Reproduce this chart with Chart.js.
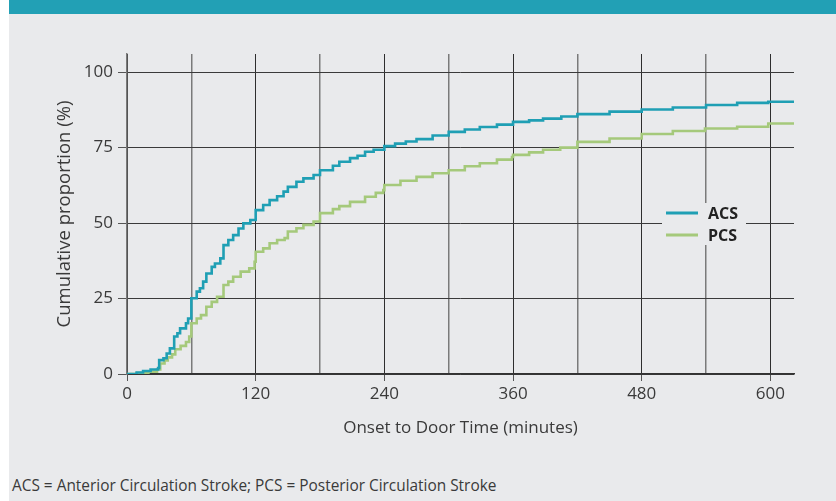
<!DOCTYPE html>
<html>
<head>
<meta charset="utf-8">
<script src="https://cdn.jsdelivr.net/npm/chart.js@4.4.0/dist/chart.umd.min.js"></script>
<style>
  html, body { margin: 0; padding: 0; background: #fff; }
  #panel { position: absolute; left: 9px; top: 0; width: 827px; height: 501px; background: #e9eaec; }
  #band { position: absolute; left: 9px; top: 0; width: 827px; height: 14px; background: #22a0b5; }
  #wrap { position: absolute; left: 0; top: 0; width: 836px; height: 460px; }
  #note { position: absolute; left: 12px; top: 475px; font: 15.4px "Open Sans", sans-serif; color: #3a3a3a; white-space: nowrap; }
</style>
</head>
<body>
<div id="panel"></div>
<div id="band"></div>
<div id="wrap"><canvas id="curveChart"></canvas></div>
<div id="note">ACS = Anterior Circulation Stroke; PCS = Posterior Circulation Stroke</div>
<script>
// values (minutes, cumulative %)
const acsTime = [0, 9, 15, 22, 29, 30, 34, 37, 40, 44, 47, 49.5, 55, 57, 60, 65, 68, 71, 74, 79, 82, 87, 90, 94.5, 99, 104, 108.5, 115, 120, 127, 133, 140, 146, 150, 158, 164.5, 174, 180, 192, 198, 208, 215, 222, 230, 240, 250, 260, 270, 285, 300, 315, 329, 345, 360, 375, 388, 405, 420, 450, 480, 509, 540, 569, 598, 622];
const acsValue = [0, 0.5, 1, 1.5, 2, 4.6, 5.2, 6.8, 8.5, 12.4, 13.5, 15.1, 16.8, 18.4, 25.1, 27.3, 28.4, 30.6, 33.3, 35.5, 36.6, 38.3, 42.7, 44.4, 46, 48.2, 49.9, 51, 54.3, 56, 57.6, 58.9, 60.4, 62, 63.7, 64.8, 65.9, 67.5, 69, 70.3, 71.5, 72.3, 73.6, 74.3, 75.5, 76.3, 77, 77.8, 79, 80.2, 81, 81.8, 82.6, 83.5, 84, 84.6, 85.3, 86.1, 86.9, 87.6, 88.3, 89.1, 89.8, 90.2, 90.3];

const pcsTime = [0, 9, 20, 28, 31, 35, 38, 42, 45, 50, 55, 58, 60, 65, 69, 74, 79, 84, 90, 94.5, 99, 106, 114, 119, 120, 127, 133, 140, 147, 150, 158, 164.5, 174, 180, 192, 198, 208, 222, 232, 239, 240, 255, 270, 285, 300, 315, 329, 345, 359, 360, 375, 388, 404, 420, 450, 480, 509, 539, 569, 598, 622];
const pcsValue = [0, 0.3, 0.8, 1.5, 3.5, 4.5, 5.5, 6.5, 8.2, 9.3, 10.6, 12.4, 16.8, 18.4, 19.5, 22.3, 23.9, 25.6, 29.5, 30.6, 32.2, 33.9, 35, 37.2, 40.5, 41.6, 43.3, 44.4, 45, 47.2, 48.3, 49.4, 50.5, 53.3, 54.6, 55.6, 57, 58.7, 60, 60.9, 62.6, 64, 65.3, 66.5, 67.5, 68.8, 69.8, 71, 71.9, 72.6, 73.4, 74.3, 75, 76.9, 78, 79.5, 80.5, 81.3, 81.9, 83, 83];

const xTicks = [0, 60, 120, 180, 240, 300, 360, 420, 480, 540, 600];
const yTicks = [0, 25, 50, 75, 100];

const seriesNames = ['ACS', 'PCS'];
const seriesColors = ['#1f9fb4', '#a5c97b'];

function toPoints(xs, ys) {
    return xs.map((x, i) => ({ x: x, y: ys[i] }));
}

const textColor = '#3a3a3a';
const fontFamily = '"Open Sans", sans-serif';

// legend drawn inside the plot, with a background box that breaks the grid
const boxLegend = {
    id: 'boxLegend',
    afterDatasetsDraw(chart) {
        const ctx = chart.ctx;
        const area = chart.chartArea;
        const x0 = area.right - 132;
        const y0 = area.top + 149;
        ctx.save();
        ctx.fillStyle = '#e9eaec';
        ctx.fillRect(x0, y0, 84, 42);
        chart.data.datasets.forEach((ds, i) => {
            const y = y0 + 10 + i * 22;
            ctx.strokeStyle = ds.borderColor;
            ctx.lineWidth = 3;
            ctx.beginPath();
            ctx.moveTo(x0 + 4, y);
            ctx.lineTo(x0 + 36, y);
            ctx.stroke();
            ctx.fillStyle = '#222';
            ctx.font = 'bold 16px ' + fontFamily;
            ctx.textBaseline = 'middle';
            ctx.fillText(ds.label, x0 + 46, y + 1);
        });
        ctx.restore();
    }
};

const ctx = document.getElementById('curveChart').getContext('2d');
const curveChart = new Chart(ctx, {
    type: 'line',
    data: {
        datasets: [
            {
                label: seriesNames[0],
                data: toPoints(acsTime, acsValue),
                borderColor: seriesColors[0],
                borderWidth: 2.6,
                pointRadius: 0,
                stepped: true,
                fill: false
            },
            {
                label: seriesNames[1],
                data: toPoints(pcsTime, pcsValue),
                borderColor: seriesColors[1],
                borderWidth: 2.6,
                pointRadius: 0,
                stepped: true,
                fill: false
            }
        ]
    },
    options: {
        responsive: true,
        maintainAspectRatio: false,
        animation: false,
        layout: { padding: { top: 54, right: 42, left: 0, bottom: 0 } },
        plugins: {
            legend: { display: false },
            tooltip: { enabled: false }
        },
        scales: {
            x: {
                type: 'linear',
                min: 0,
                max: 622,
                afterBuildTicks: scale => { scale.ticks = xTicks.map(v => ({ value: v })); },
                afterFit: scale => { scale.height = 86; },
                grid: {
                    color: c => (c.tick && c.tick.value % 120 === 0) ? '#2e2e2e' : '#7a7a7a',
                    tickColor: c => (c.tick && c.tick.value % 120 === 0) ? '#555' : 'rgba(0,0,0,0)',
                    lineWidth: c => (c.tick && c.tick.value % 120 === 0) ? 1 : 1.5,
                    tickLength: 7
                },
                border: { color: '#333', width: 1.5 },
                ticks: {
                    autoSkip: false,
                    maxRotation: 0,
                    padding: 3,
                    color: textColor,
                    font: { family: fontFamily, size: 17 },
                    callback: v => (v % 120 === 0 ? String(v) : '')
                },
                title: {
                    display: true,
                    text: 'Onset to Door Time (minutes)',
                    color: textColor,
                    font: { family: fontFamily, size: 17 },
                    padding: { top: 0, bottom: 22 }
                }
            },
            y: {
                min: 0,
                max: 106,
                afterBuildTicks: scale => { scale.ticks = yTicks.map(v => ({ value: v })); },
                afterFit: scale => { scale.width = 127; },
                grid: {
                    color: '#3a3a3a',
                    tickColor: '#555',
                    tickLength: 9
                },
                border: { color: '#7a7a7a', width: 1.5 },
                ticks: {
                    padding: 5,
                    color: textColor,
                    font: { family: fontFamily, size: 17 }
                },
                title: {
                    display: true,
                    text: 'Cumulative proportion (%)',
                    color: textColor,
                    font: { family: fontFamily, size: 18.5 },
                    padding: { top: 54, bottom: 0 }
                }
            }
        }
    },
    plugins: [boxLegend]
});
</script>
</body>
</html>
